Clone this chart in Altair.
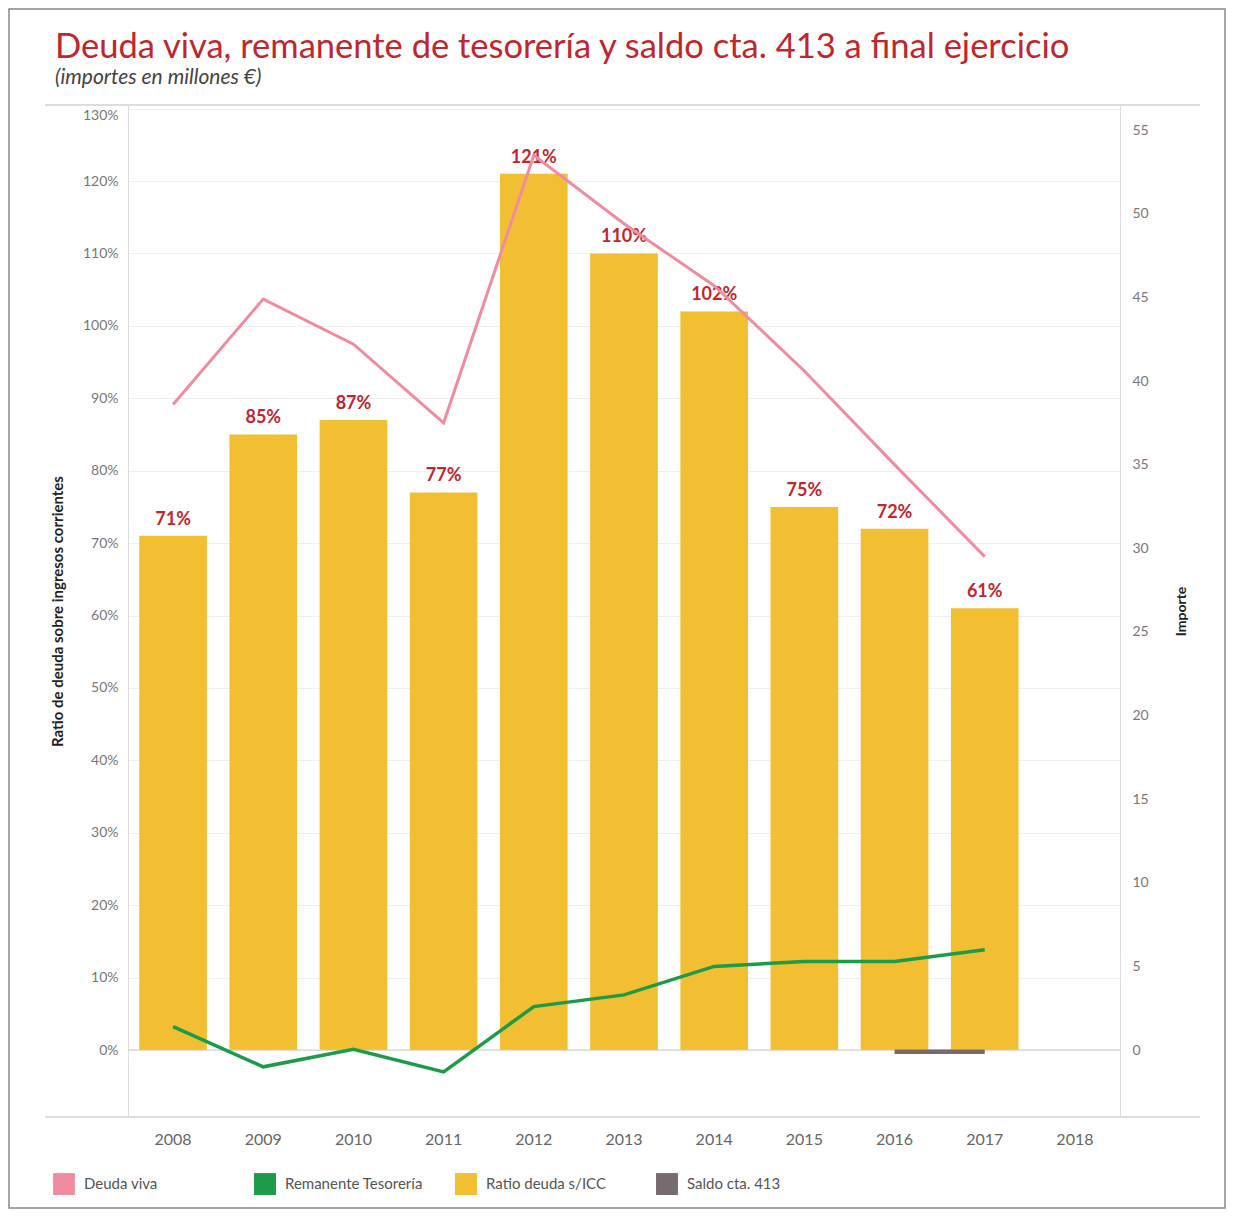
import altair as alt
import pandas as pd

years = ["2008", "2009", "2010", "2011", "2012", "2013", "2014", "2015", "2016", "2017"]
all_years = years + ["2018"]
ratio = [71, 85, 87, 77, 121, 110, 102, 75, 72, 61]
deuda_viva = [38.6, 44.9, 42.2, 37.5, 53.5, 49.4, 45.7, 40.6, 35.0, 29.5]
remanente = [1.4, -1.0, 0.05, -1.3, 2.6, 3.3, 5.0, 5.3, 5.3, 6.0]
saldo_years = ["2016", "2017"]
saldo = [-0.1, -0.1]

series = ["Deuda viva", "Remanente Tesorería", "Ratio deuda s/ICC", "Saldo cta. 413"]
colors = ["#F08CA0", "#1E9B48", "#F2BE32", "#776A70"]

title_text = "Deuda viva, remanente de tesorería y saldo cta. 413  a final ejercicio"
subtitle_text = "(importes en millones €)"

W, H = 992, 1012
FONT = "Lato"
LEFT_DOM = [-9.25, 130.5]
RIGHT_DOM = [-4.0, 56.5]

bars_df = pd.DataFrame({"year": years, "ratio": ratio, "serie": "Ratio deuda s/ICC"})
dv_df = pd.DataFrame({"year": years, "v": deuda_viva})
rt_df = pd.DataFrame({"year": years, "v": remanente})
sc_df = pd.DataFrame({"year": saldo_years, "v": saldo})
deco_df = pd.DataFrame({"k": [0]})
title_df = pd.DataFrame({"t": [title_text]})
sub_df = pd.DataFrame({"t": [subtitle_text]})

xenc = alt.X("year:N", scale=alt.Scale(domain=all_years, paddingInner=0.25, paddingOuter=0.125),
             axis=alt.Axis(title=None, labelAngle=0, labelFontSize=16, labelColor="#666",
                           labelFont=FONT, ticks=False, domain=False, labelPadding=14))

left_axis = alt.Axis(title="Ratio de deuda sobre ingresos corrientes", values=list(range(0, 131, 10)),
                     labelExpr="datum.value + '%'", labelFontSize=14, labelColor="#777",
                     labelFont=FONT, titleFont=FONT, titleFontSize=15, titleFontWeight="bold",
                     titleColor="#222", ticks=False, domainColor="#dddddd", gridColor="#eeeeee",
                     labelPadding=10, titlePadding=17, labelFlush=6)
left_scale = alt.Scale(domain=LEFT_DOM, nice=False, zero=False)

right_scale = alt.Scale(domain=RIGHT_DOM, nice=False, zero=False)
right_axis = alt.Axis(title="Importe", orient="right", values=list(range(0, 56, 5)), grid=False,
                      labelFontSize=14, labelColor="#777", labelFont=FONT, titleFont=FONT,
                      titleFontSize=14, titleFontWeight="bold", titleColor="#222", titleAngle=270,
                      ticks=False, domainColor="#dddddd", labelPadding=12, titlePadding=40)

bars = alt.Chart(bars_df).mark_bar().encode(
    x=xenc,
    y=alt.Y("ratio:Q", scale=left_scale, axis=left_axis),
    color=alt.Color("serie:N", scale=alt.Scale(domain=series, range=colors),
                    legend=alt.Legend(title=None, orient="none", legendX=-75, legendY=1068,
                                      direction="horizontal", columns=4, gridAlign="all",
                                      symbolType="square", symbolSize=480, symbolStrokeWidth=0,
                                      labelFontSize=15, labelColor="#555", labelFont=FONT,
                                      labelOffset=9, columnPadding=32)),
)

labels = alt.Chart(bars_df).transform_calculate(lbl="datum.ratio + '%'").mark_text(
    dy=-16, fontSize=18, fontWeight="bold", color="#C0262D", font=FONT).encode(
    x=xenc,
    y=alt.Y("ratio:Q", scale=left_scale, axis=left_axis),
    text="lbl:N",
)

left = alt.layer(bars, labels)

yr = alt.Y("v:Q", scale=right_scale, axis=right_axis)

dv_line = alt.Chart(dv_df).mark_line(color="#F08CA0", strokeWidth=3).encode(x=xenc, y=yr)
rt_line = alt.Chart(rt_df).mark_line(color="#1E9B48", strokeWidth=3.5).encode(x=xenc, y=yr)
sc_line = alt.Chart(sc_df).mark_line(color="#776A70", strokeWidth=4.5).encode(x=xenc, y=yr)

right = alt.layer(dv_line, rt_line, sc_line)

frame_top = alt.Chart(deco_df).mark_rule(color="#dddddd", strokeWidth=2).encode(
    x=alt.value(-83), x2=alt.value(1072), y=alt.value(0))
frame_bot = alt.Chart(deco_df).mark_rule(color="#dddddd", strokeWidth=2).encode(
    x=alt.value(-83), x2=alt.value(1072), y=alt.value(H))
zero_line = alt.Chart(deco_df).mark_rule(color="#cccccc", strokeWidth=1).encode(
    x=alt.value(0), x2=alt.value(W), y=alt.value(H * LEFT_DOM[1] / (LEFT_DOM[1] - LEFT_DOM[0])))
border = alt.Chart(deco_df).mark_rect(fill=None, stroke="#888888", strokeWidth=1.5).encode(
    x=alt.value(-119), x2=alt.value(1097), y=alt.value(-96), y2=alt.value(1103))

title_mark = alt.Chart(title_df).mark_text(
    align="left", baseline="alphabetic", fontSize=34.5, font=FONT, color="#C0262D").encode(
    x=alt.value(-73), y=alt.value(-47), text="t:N")
subtitle_mark = alt.Chart(sub_df).mark_text(
    align="left", baseline="alphabetic", fontSize=21, font=FONT, fontStyle="italic",
    color="#444444").encode(x=alt.value(-73), y=alt.value(-21), text="t:N")

chart = alt.layer(left, zero_line, right, frame_top, frame_bot, border, title_mark,
                  subtitle_mark).resolve_scale(
    y="independent"
).properties(
    width=W, height=H,
    padding={"left": 120, "top": 97, "right": 106, "bottom": 95},
    autosize=alt.AutoSizeParams(type="none"),
).configure_view(stroke=None)

chart.save("out.html", embed_options={"renderer": "svg", "actions": False})
